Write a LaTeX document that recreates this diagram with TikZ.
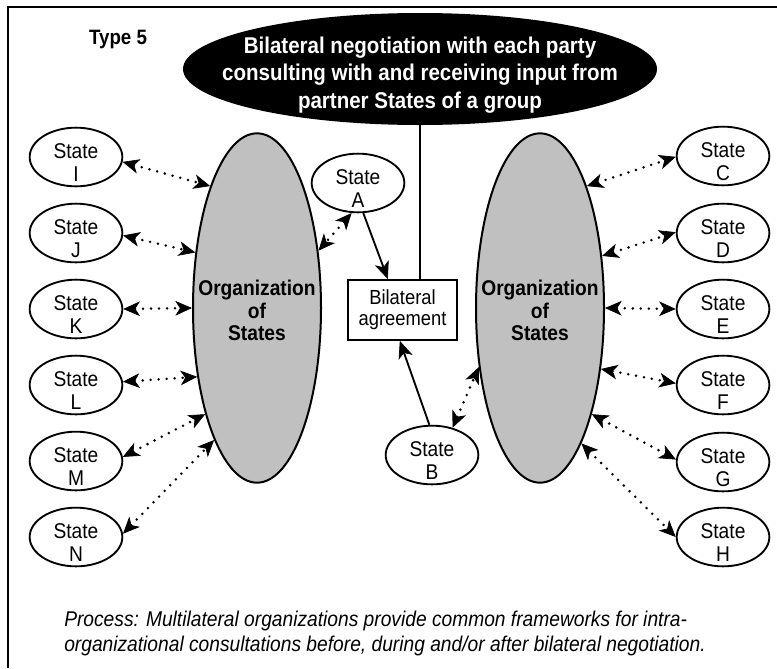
\documentclass[tikz,border=0pt]{standalone}
\usepackage{fontspec}
\setmainfont{Liberation Sans}[FakeStretch=0.9]
\usetikzlibrary{shapes.geometric,arrows.meta}
\definecolor{orggray}{RGB}{192,192,192}
\begin{document}
\begin{tikzpicture}[x=0.75pt,y=-0.75pt,
  stateE/.style={ellipse, draw, line width=1.4pt, fill=white, minimum width=69.5pt, minimum height=44pt, inner sep=0pt},
  statelbl/.style={font=\fontsize{16}{17}\selectfont, align=center, inner sep=0pt, yshift=-4pt},
  orgE/.style={ellipse, draw, line width=1.5pt, fill=orggray, minimum width=96pt, minimum height=262pt, inner sep=0pt},
  orglbl/.style={font=\bfseries\fontsize{16}{16.9}\selectfont, align=center, inner sep=0pt, yshift=-2pt},
  topE/.style={ellipse, fill=black, minimum width=355.5pt, minimum height=84pt, inner sep=0pt},
  toplbl/.style={font=\bfseries\fontsize{17.1}{20.6}\selectfont, text=white, align=center, inner sep=0pt, yshift=-4.5pt},
  agreebox/.style={draw, line width=1.4pt, fill=white, minimum width=81.75pt, minimum height=45pt, inner sep=0pt, align=center, font=\fontsize{15.3}{15.75}\selectfont},
  dots/.style={line width=2.1pt, line cap=round, dash pattern=on 0pt off 6pt,
    {Stealth[length=12.5pt,width=11pt,inset=3.5pt,line width=0.5pt]}-{Stealth[length=12.5pt,width=11pt,inset=3.5pt,line width=0.5pt]}},
  solidarrow/.style={line width=1.4pt, -{Stealth[length=13pt,width=11pt,inset=3.5pt,line width=0.5pt]}}
]
\useasboundingbox (0,0) rectangle (777,668);
% frame
\draw[line width=1.5pt] (8,668) -- (8,7) -- (777,7);

\node[font=\bfseries\fontsize{15.6}{16}\selectfont] (type) at (118,39) {Type 5};

% top ellipse
\node[topE, label={[toplbl]center:Bilateral negotiation with each party\\consulting with and receiving input from\\partner States of a group}] (top) at (420,69) {};

% agreement box
\node[agreebox] (box) at (402.5,310) {Bilateral\\agreement};
\draw[line width=1.4pt] (top.south) -- (top.south |- box.north);

% organizations
\node[orgE, label={[orglbl]center:Organization\\of\\States}] (orgL) at (257,308) {};
\node[orgE, label={[orglbl]center:Organization\\of\\States}] (orgR) at (540,308) {};

% left states
\node[stateE, label={[statelbl]center:State\\I}] (I) at (76,157) {};
\node[stateE, label={[statelbl]center:State\\J}] (J) at (76,233) {};
\node[stateE, label={[statelbl]center:State\\K}] (K) at (76,309) {};
\node[stateE, label={[statelbl]center:State\\L}] (L) at (76,385) {};
\node[stateE, label={[statelbl]center:State\\M}] (M) at (76,461) {};
\node[stateE, label={[statelbl]center:State\\N}] (N) at (76,537) {};
% right states
\node[stateE, label={[statelbl]center:State\\C}] (C) at (723,156) {};
\node[stateE, label={[statelbl]center:State\\D}] (D) at (723,233) {};
\node[stateE, label={[statelbl]center:State\\E}] (E) at (723,309) {};
\node[stateE, label={[statelbl]center:State\\F}] (F) at (723,385) {};
\node[stateE, label={[statelbl]center:State\\G}] (G) at (723,462) {};
\node[stateE, label={[statelbl]center:State\\H}] (H) at (723,537) {};
% A and B
\node[stateE, label={[statelbl]center:State\\A}] (A) at (358,183) {};
\node[stateE, label={[statelbl]center:State\\B}] (B) at (432,455) {};

% dotted connectors left
\draw[dots] (I.-6) -- (orgL.111);
\draw[dots] (J.-3) -- (orgL.138);
\draw[dots] (K.0) -- (orgL.180);
\draw[dots] (L.4) -- (orgL.229);
\draw[dots] (M.5) -- (orgL.244);
\draw[dots] (N.4) -- (orgL.252);
% dotted connectors right
\draw[dots] (orgR.69) -- (C.181);
\draw[dots] (orgR.40) -- (D.179);
\draw[dots] (orgR.0) -- (E.180);
\draw[dots] (orgR.-45) -- (F.178);
\draw[dots] (orgR.-64) -- (G.177);
\draw[dots] (orgR.-73) -- (H.180);
% A and B
\draw[dots] (A.258) -- (orgL.43);
\draw[solidarrow] (A.280) -- ([xshift=-11pt]box.north);
\draw[dots] (B.53) -- (orgR.-136);
\draw[solidarrow] (B.95) -- ([xshift=-2pt]box.south);

% caption
\node[anchor=west, align=left, inner sep=0pt, font=\itshape\fontsize{16}{18.75}\selectfont] (proc) at (64,633.5) {Process: Multilateral organizations provide common frameworks for intra-\\organizational consultations before, during and/or after bilateral negotiation.};
\end{tikzpicture}
\end{document}
